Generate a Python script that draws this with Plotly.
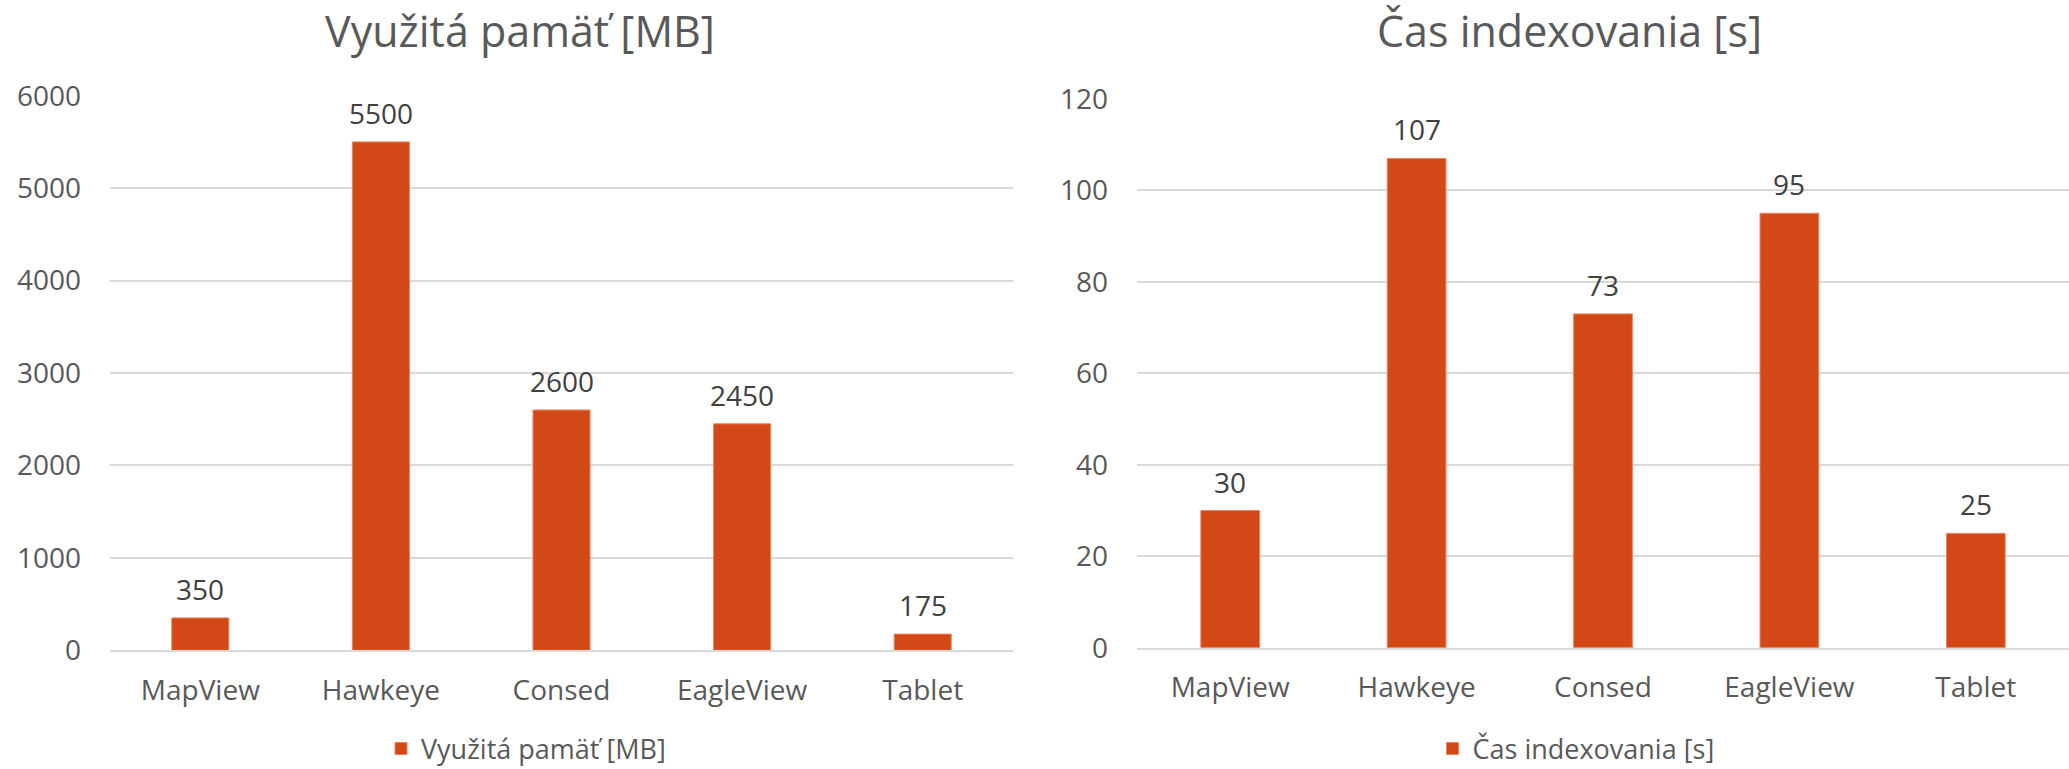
import plotly.graph_objects as go

categories = ["MapView", "Hawkeye", "Consed", "EagleView", "Tablet"]
memory_mb = [350, 5500, 2600, 2450, 175]
index_time_s = [30, 107, 73, 95, 25]
title_left = "Využitá pamäť [MB]"
title_right = "Čas indexovania [s]"
ticks_left = [0, 1000, 2000, 3000, 4000, 5000, 6000]
ticks_right = [0, 20, 40, 60, 80, 100, 120]

BAR = "#D34817"
GRID = "#D9D9D9"
TXT = "#595959"
LBL = "#404040"
FONT = "Open Sans"

W, H = 2069, 769

fig = go.Figure()
fig.add_trace(go.Bar(x=categories, y=memory_mb, name=title_left, xaxis="x", yaxis="y",
                     marker=dict(color=BAR, line=dict(color="#E8845E", width=1)),
                     width=0.316, legend="legend", hoverinfo="x+y"))
fig.add_trace(go.Bar(x=categories, y=index_time_s, name=title_right, xaxis="x2", yaxis="y2",
                     marker=dict(color=BAR, line=dict(color="#E8845E", width=1)),
                     width=0.315, legend="legend2", hoverinfo="x+y"))

annotations = []
for c, v in zip(categories, memory_mb):
    annotations.append(dict(x=c, y=v, xref="x", yref="y", text=str(v), showarrow=False,
                            yanchor="bottom", yshift=8, font=dict(family=FONT, size=28, color=LBL)))
for c, v in zip(categories, index_time_s):
    annotations.append(dict(x=c, y=v, xref="x2", yref="y2", text=str(v), showarrow=False,
                            yanchor="bottom", yshift=8, font=dict(family=FONT, size=28, color=LBL)))
annotations.append(dict(x=520 / W, y=1 - 30 / H, xref="paper", yref="paper", text=title_left,
                        showarrow=False, xanchor="center", yanchor="middle",
                        font=dict(family=FONT, size=43, color=TXT)))
annotations.append(dict(x=1569 / W, y=1 - 30 / H, xref="paper", yref="paper", text=title_right,
                        showarrow=False, xanchor="center", yanchor="middle",
                        font=dict(family=FONT, size=43, color=TXT)))

axis_common_x = dict(showgrid=False, showline=True, linecolor=GRID, linewidth=2, ticks="",
                     tickfont=dict(family=FONT, size=28, color=TXT), ticklabelstandoff=14,
                     zeroline=False, fixedrange=True, automargin=False)
axis_common_y = dict(showgrid=True, gridcolor=GRID, gridwidth=2, showline=False, ticks="",
                     tickfont=dict(family=FONT, size=28, color=TXT), ticklabelstandoff=28,
                     zeroline=False, fixedrange=True, automargin=False)

fig.update_layout(
    width=W, height=H,
    margin=dict(l=0, r=0, t=0, b=0, autoexpand=False),
    paper_bgcolor="white", plot_bgcolor="white",
    bargap=0.68,
    xaxis=dict(domain=[110 / W, 1013 / W], anchor="y", **axis_common_x),
    yaxis=dict(domain=[(H - 650.3) / H, (H - 95.7) / H], anchor="x", range=[0, 6000],
               tickvals=ticks_left, **axis_common_y),
    xaxis2=dict(domain=[1137 / W, 1.0], anchor="y2", **axis_common_x),
    yaxis2=dict(domain=[(H - 647.7) / H, (H - 99) / H], anchor="x2", range=[0, 120],
                tickvals=ticks_right, **axis_common_y),
    legend=dict(orientation="h", x=526 / W, y=(H - 749) / H, xanchor="center", yanchor="middle",
                xref="container", yref="container",
                font=dict(family=FONT, size=27, color=TXT), bgcolor="rgba(0,0,0,0)"),
    legend2=dict(orientation="h", x=1576 / W, y=(H - 749) / H, xanchor="center", yanchor="middle",
                 xref="container", yref="container",
                 font=dict(family=FONT, size=27, color=TXT), bgcolor="rgba(0,0,0,0)"),
    annotations=annotations,
    showlegend=True,
)

fig.write_html("out.html")
